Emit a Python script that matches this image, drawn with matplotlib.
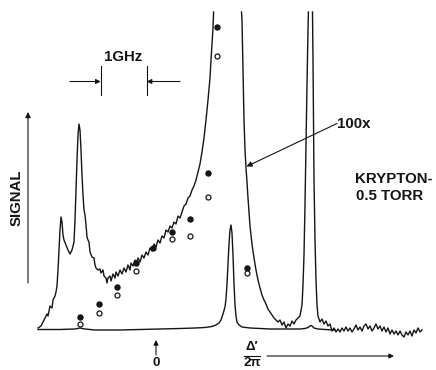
import numpy as np
import matplotlib
matplotlib.use("Agg")
import matplotlib.pyplot as plt

# ---- data read from the chart recording ----
# chart position (recorder units) and deflection (recorder units, 0 = baseline)
ZERO_POS = 156.0      # chart position of zero detuning
POS_PER_GHZ = 46.0    # chart units per GHz

# 100x amplified trace (left branch, up to the off-scale main resonance)
trace100a_pos = [38, 41, 43, 45, 47, 48, 50, 52, 53, 55, 56, 57, 58, 59, 60, 61, 62, 63, 64, 66,
                 68, 70, 72, 74, 75, 76, 77, 78, 79, 80, 81, 82, 83, 84, 85, 86, 87, 88, 89, 90,
                 92, 94, 95, 96, 98, 100, 101, 103, 104, 106, 107, 108, 110, 111, 113, 115, 116,
                 118, 120, 122, 124, 126, 128, 130, 131, 133, 135, 136, 138, 140, 142, 144, 146,
                 148, 150, 152, 154, 156, 158, 160, 162, 164, 166, 168, 170, 172, 174, 176, 178,
                 180, 182, 184, 186, 188, 190, 192, 194, 196, 198, 200, 202, 204, 206, 208, 210,
                 211, 212, 213, 213.6]
trace100a_sig = [2, 4, 8, 12, 16, 14, 24, 22, 30, 34, 38, 44, 60, 80, 100, 113, 108, 95, 90, 85,
                 80, 76, 80, 88, 110, 140, 170, 195, 206, 200, 180, 155, 135, 120, 115, 105, 93,
                 90, 88, 78, 73, 72, 65, 62, 60, 61, 57, 60, 54, 52, 47, 52, 54, 49, 56, 52, 58,
                 54, 60, 56, 62, 58, 65, 60, 67, 64, 70, 65, 72, 68, 75, 72, 78, 75, 82, 79, 86,
                 83, 90, 87, 94, 92, 100, 98, 104, 102, 108, 106, 114, 112, 118, 124, 126, 132,
                 134, 140, 144, 150, 158, 166, 178, 192, 210, 230, 252, 270, 286, 302, 318]

# 100x amplified trace (right branch, incl. the second off-scale line)
trace100b_pos = [241.5, 242, 243, 244, 245, 246, 247, 248, 249, 250, 252, 254, 256, 258, 260, 262,
                 264, 266, 268, 270, 272, 274, 276, 278, 280, 282, 284, 286, 288, 290, 292, 294,
                 296, 298, 300, 302, 303, 304, 305, 306, 307, 308, 308.4]
trace100b_sig = [318, 310, 260, 210, 180, 162, 148, 132, 118, 104, 86, 72, 60, 50, 42, 35, 30, 26,
                 21, 18, 15, 12, 10, 8, 10, 5, 8, 2, 6, 4, 9, 6, 10, 12, 14, 25, 45, 75, 125, 185,
                 245, 300, 318]
trace100c_pos = [312.5, 313, 313.5, 314, 315, 316, 317, 318, 320, 322, 324, 326, 328, 330, 332,
                 334, 336, 338, 340, 342, 344, 346, 348, 350, 352, 354, 356, 358, 360, 362, 364,
                 366, 368, 370, 372, 374, 376, 378, 380, 382, 384, 386, 388, 390, 392, 394, 396,
                 398, 400, 402, 404, 406, 408, 410, 412, 414, 416, 418, 420, 422]
trace100c_sig = [318, 270, 210, 150, 90, 50, 25, 14, 8, 11, 6, 9, 4, 6, -1, 2, -2, 1, -2, 2, -1,
                 3, -1, 2, -2, 1, 5, 0, 3, -1, 4, 6, 1, 4, -1, 2, 6, 1, 4, -1, 3, -2, 2, -4, 0,
                 -4, -1, -5, -1, -5, -7, -2, -5, -1, -6, 0, -3, 2, -2, 0]

# 1x trace
trace1_pos = [38, 60, 75, 80, 85, 95, 120, 140, 160, 180, 195, 205, 212, 216, 219, 221, 223, 225,
              226, 227, 228, 229, 230, 231, 232, 233, 234, 235, 236, 237, 239, 242, 250, 270, 290,
              300, 305, 308, 310, 311, 312, 314, 318, 325, 335]
trace1_sig = [0.5, 0.5, 1, 2, 1, 0, 0, 0.5, 1, 1.5, 2, 2.5, 3.5, 5, 7, 10, 16, 23, 31, 46, 66, 86,
              100, 105, 97, 75, 46, 25, 14, 8, 5, 3, 2, 1, 1, 1, 1.5, 2.5, 4, 4.5, 4, 2, 1, 0.5, 0]

# measured points
pts_pos = [80, 99, 117, 136, 153, 172, 190, 208, 217, 247]
filled_sig = [13, 26, 43, 67, 82, 98, 111, 157, 303, 62]
open_sig = [6, 17, 35, 59, np.nan, 91, 94, 133, 274, 57]


def freq(pos):
    return (np.asarray(pos, dtype=float) - ZERO_POS) / POS_PER_GHZ


# ---- figure ----
W, H = 436, 370
fig = plt.figure(figsize=(W / 100, H / 100), dpi=100)
ax = fig.add_axes([0, 0, 1, 1])
ax.set_xlim(freq(0), freq(W))
BASE = 330.0
ax.set_ylim(BASE - H, BASE)
ax.axis("off")


def P(px, py):
    """figure pixel -> data coords (for annotation placement)"""
    return ((px - ZERO_POS) / POS_PER_GHZ, BASE - py)


ink = "#151515"
lw = 1.0
for pos, sig in [(trace100a_pos, trace100a_sig), (trace100b_pos, trace100b_sig),
                 (trace100c_pos, trace100c_sig), (trace1_pos, trace1_sig)]:
    ax.plot(freq(pos), sig, color=ink, lw=lw, solid_joinstyle="round")

ax.plot(freq(pts_pos), filled_sig, "o", ms=3.6, color=ink, mec=ink)
ax.plot(freq(pts_pos), open_sig, "o", ms=3.6, mfc="white", mec=ink, mew=0.9)

plt.rcParams["font.family"] = ["Liberation Sans", "DejaVu Sans"]
tkw = dict(color=ink, fontsize=10.8, fontweight="bold")
alw = 0.8

# 1 GHz scale marker
ax.text(*P(123, 57), "1GHz", ha="center", va="center", **tkw)
for xb in (100.7, 146.7):
    ax.plot(*zip(P(xb, 66), P(xb, 95)), color=ink, lw=alw)
ax.annotate("", xy=P(100.7, 81.5), xytext=P(70, 81.5),
            arrowprops=dict(arrowstyle="-|>", lw=alw, color=ink, mutation_scale=7, shrinkA=0, shrinkB=0))
ax.annotate("", xy=P(146.7, 81.5), xytext=P(180, 81.5),
            arrowprops=dict(arrowstyle="-|>", lw=alw, color=ink, mutation_scale=7, shrinkA=0, shrinkB=0))

# SIGNAL axis arrow
ax.annotate("", xy=P(28, 112), xytext=P(28, 283),
            arrowprops=dict(arrowstyle="-|>", lw=alw, color=ink, mutation_scale=8, shrinkA=0, shrinkB=0))
ax.text(*P(17, 198), "SIGNAL", rotation=90, ha="center", va="center", **tkw)

# 100x label
ax.annotate("", xy=P(246.5, 166.5), xytext=P(337, 123.5),
            arrowprops=dict(arrowstyle="-|>", lw=alw, color=ink, mutation_scale=8, shrinkA=0, shrinkB=0))
ax.text(*P(337, 124), "100x", ha="left", va="center", **tkw)

ax.text(*P(355, 179), "KRYPTON-", ha="left", va="center", **tkw)
ax.text(*P(356, 196), "0.5 TORR", ha="left", va="center", **tkw)

# zero marker
skw = dict(tkw, fontsize=9.5)
ax.annotate("", xy=P(156, 340), xytext=P(156, 355),
            arrowprops=dict(arrowstyle="-|>", lw=alw, color=ink, mutation_scale=7, shrinkA=0, shrinkB=0))
ax.text(*P(156, 357), "0", ha="center", va="top", **skw)

# detuning label
ax.text(*P(252, 353), "\u0394\u2032", ha="center", va="bottom", **skw)
ax.plot(*zip(P(244, 355.5), P(260, 355.5)), color=ink, lw=alw)
ax.text(*P(252, 357), "2\u03c0", ha="center", va="top", **skw)
ax.annotate("", xy=P(394, 356), xytext=P(267, 356),
            arrowprops=dict(arrowstyle="-|>", lw=alw, color=ink, mutation_scale=7, shrinkA=0, shrinkB=0))

fig.savefig("out.png", dpi=100, facecolor="white")
